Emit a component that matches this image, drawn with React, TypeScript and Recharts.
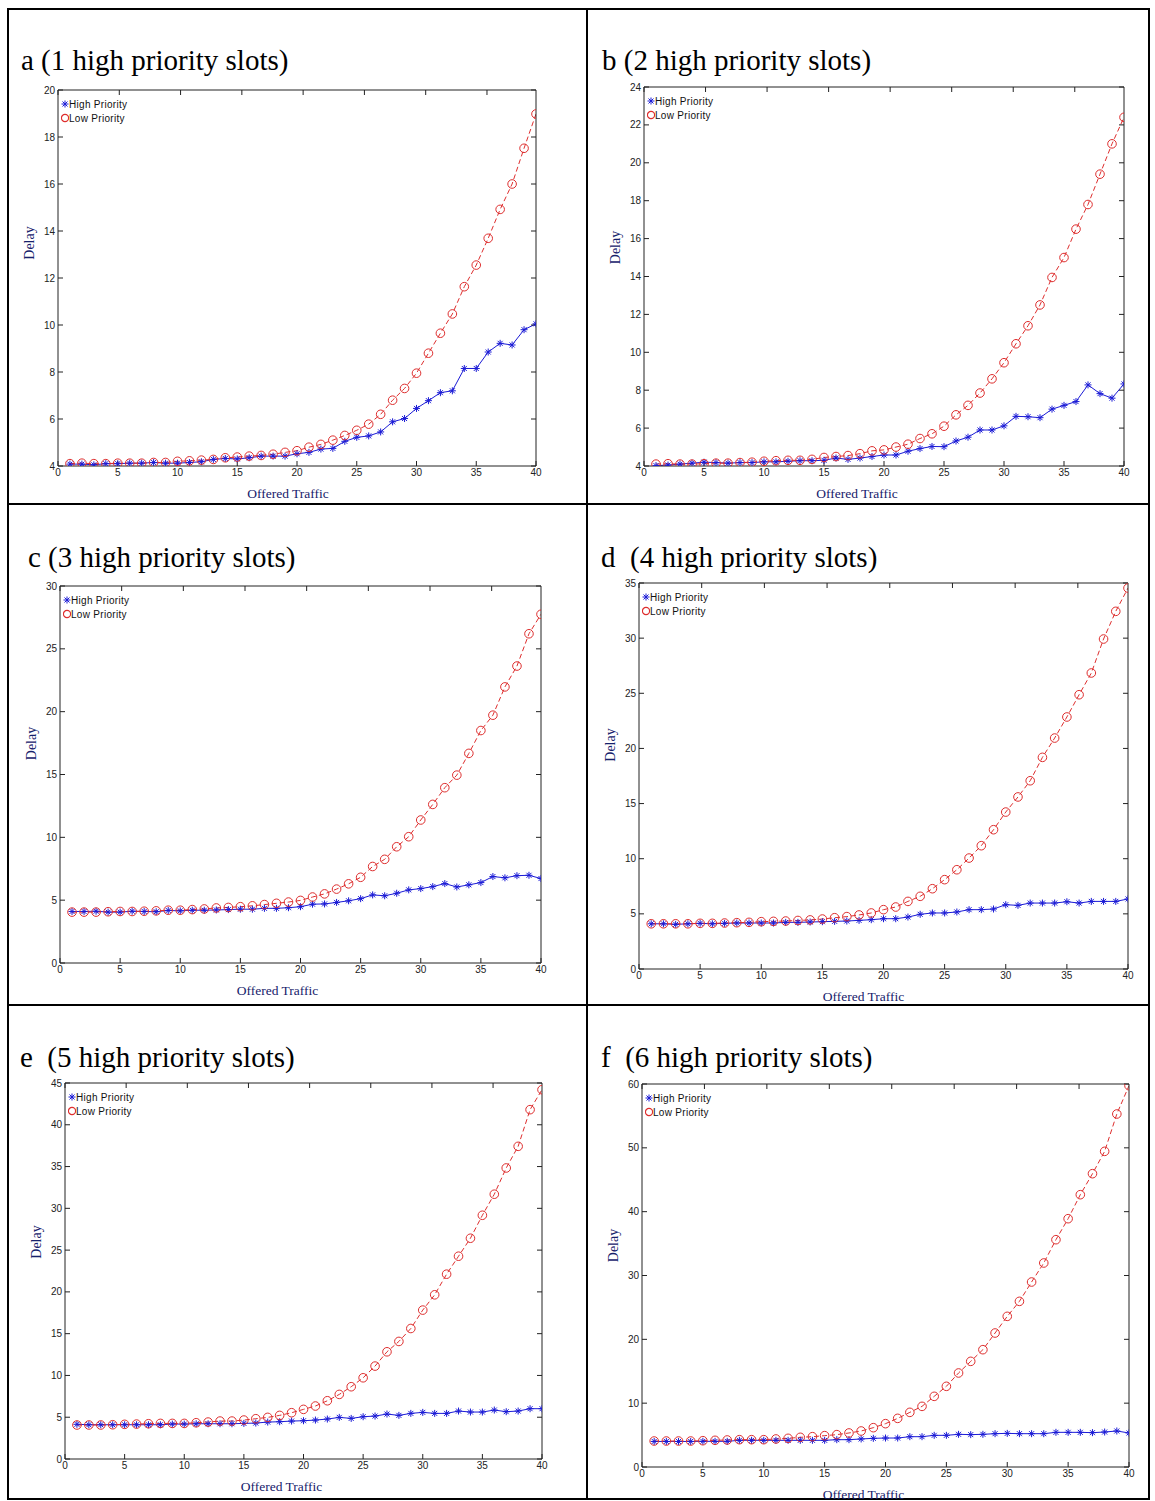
import React from "react";
import { LineChart, Line, XAxis, YAxis, Legend } from "recharts";

// offered traffic (x) shared by all six panels
const traffic = [1, 2, 3, 4, 5, 6, 7, 8, 9, 10, 11, 12, 13, 14, 15, 16, 17, 18, 19, 20, 21, 22, 23, 24, 25, 26, 27, 28, 29, 30, 31, 32, 33, 34, 35, 36, 37, 38, 39, 40];
const xTicks = [0, 5, 10, 15, 20, 25, 30, 35, 40];

const highA = [4.08, 4.08, 4.05, 4.1, 4.1, 4.12, 4.12, 4.15, 4.12, 4.12, 4.15, 4.18, 4.28, 4.32, 4.3, 4.35, 4.42, 4.42, 4.42, 4.52, 4.58, 4.72, 4.75, 5.05, 5.22, 5.28, 5.45, 5.88, 6.02, 6.45, 6.78, 7.12, 7.2, 8.15, 8.15, 8.85, 9.22, 9.15, 9.8, 10.05];
const lowA = [4.1, 4.12, 4.1, 4.1, 4.12, 4.12, 4.12, 4.15, 4.15, 4.2, 4.22, 4.25, 4.28, 4.35, 4.38, 4.42, 4.45, 4.5, 4.58, 4.65, 4.8, 4.92, 5.1, 5.3, 5.52, 5.78, 6.2, 6.8, 7.3, 7.95, 8.8, 9.65, 10.47, 11.63, 12.55, 13.69, 14.92, 16.0, 17.52, 18.98];

const highB = [4.02, 4.05, 4.1, 4.15, 4.2, 4.18, 4.15, 4.18, 4.18, 4.22, 4.22, 4.25, 4.28, 4.28, 4.3, 4.42, 4.35, 4.42, 4.5, 4.58, 4.58, 4.78, 4.92, 5.03, 5.02, 5.32, 5.52, 5.9, 5.9, 6.12, 6.62, 6.6, 6.55, 7.0, 7.2, 7.4, 8.28, 7.82, 7.58, 8.33];
const lowB = [4.1, 4.12, 4.1, 4.1, 4.12, 4.15, 4.15, 4.18, 4.2, 4.25, 4.28, 4.3, 4.3, 4.35, 4.45, 4.5, 4.55, 4.65, 4.8, 4.85, 5.0, 5.15, 5.45, 5.7, 6.1, 6.7, 7.2, 7.85, 8.6, 9.45, 10.45, 11.4, 12.5, 13.95, 15.0, 16.5, 17.8, 19.4, 21.0, 22.4];

const highC = [4.1, 4.1, 4.12, 4.05, 4.05, 4.12, 4.1, 4.08, 4.18, 4.15, 4.2, 4.2, 4.22, 4.25, 4.28, 4.28, 4.35, 4.35, 4.4, 4.48, 4.68, 4.7, 4.82, 4.95, 5.12, 5.42, 5.35, 5.55, 5.82, 5.92, 6.08, 6.32, 6.05, 6.22, 6.4, 6.88, 6.78, 6.95, 6.98, 6.72];
const lowC = [4.05, 4.05, 4.05, 4.08, 4.1, 4.1, 4.12, 4.15, 4.2, 4.2, 4.25, 4.3, 4.38, 4.42, 4.48, 4.55, 4.65, 4.75, 4.85, 4.98, 5.25, 5.5, 5.88, 6.3, 6.82, 7.68, 8.25, 9.25, 10.05, 11.38, 12.62, 13.95, 14.95, 16.68, 18.5, 19.72, 21.97, 23.63, 26.2, 27.75];

const highD = [4.1, 4.1, 4.05, 4.1, 4.14, 4.1, 4.14, 4.17, 4.17, 4.17, 4.17, 4.23, 4.23, 4.26, 4.29, 4.32, 4.35, 4.41, 4.47, 4.56, 4.56, 4.71, 4.96, 5.08, 5.08, 5.17, 5.38, 5.38, 5.44, 5.83, 5.77, 5.98, 5.98, 5.98, 6.1, 5.98, 6.13, 6.13, 6.13, 6.35];
const lowD = [4.1, 4.1, 4.1, 4.1, 4.14, 4.14, 4.17, 4.2, 4.23, 4.29, 4.32, 4.35, 4.4, 4.45, 4.53, 4.65, 4.75, 4.9, 5.08, 5.38, 5.62, 6.13, 6.59, 7.28, 8.1, 9.0, 10.06, 11.18, 12.63, 14.23, 15.6, 17.07, 19.19, 20.94, 22.85, 24.87, 26.84, 29.92, 32.43, 34.54];

const highE = [4.15, 4.1, 4.1, 4.1, 4.1, 4.1, 4.1, 4.1, 4.18, 4.18, 4.22, 4.22, 4.22, 4.22, 4.26, 4.3, 4.42, 4.46, 4.54, 4.58, 4.66, 4.78, 4.98, 4.86, 5.06, 5.14, 5.38, 5.22, 5.46, 5.58, 5.46, 5.46, 5.74, 5.62, 5.62, 5.86, 5.66, 5.74, 6.02, 6.02];
const lowE = [4.07, 4.07, 4.07, 4.1, 4.15, 4.18, 4.22, 4.26, 4.26, 4.26, 4.34, 4.42, 4.54, 4.54, 4.66, 4.82, 4.98, 5.22, 5.54, 5.94, 6.34, 6.97, 7.73, 8.65, 9.72, 11.12, 12.83, 14.07, 15.62, 17.82, 19.65, 22.12, 24.27, 26.42, 29.17, 31.69, 34.83, 37.42, 41.81, 44.2];

const highF = [4.0, 4.0, 4.0, 4.0, 4.02, 4.02, 4.02, 4.18, 4.18, 4.18, 4.18, 4.18, 4.18, 4.18, 4.18, 4.28, 4.28, 4.39, 4.49, 4.54, 4.54, 4.75, 4.75, 4.96, 4.96, 5.12, 5.07, 5.12, 5.22, 5.27, 5.22, 5.22, 5.22, 5.43, 5.43, 5.43, 5.38, 5.48, 5.64, 5.33];
const lowF = [4.07, 4.07, 4.07, 4.07, 4.12, 4.18, 4.23, 4.28, 4.28, 4.28, 4.39, 4.49, 4.65, 4.75, 4.91, 5.07, 5.33, 5.64, 6.16, 6.79, 7.62, 8.56, 9.5, 11.07, 12.64, 14.73, 16.55, 18.38, 20.99, 23.6, 25.95, 28.98, 31.96, 35.61, 38.9, 42.66, 45.95, 49.45, 55.3, 59.74];

const yTicksA = [4, 6, 8, 10, 12, 14, 16, 18, 20];
const yTicksB = [4, 6, 8, 10, 12, 14, 16, 18, 20, 22, 24];
const yTicksC = [0, 5, 10, 15, 20, 25, 30];
const yTicksD = [0, 5, 10, 15, 20, 25, 30, 35];
const yTicksE = [0, 5, 10, 15, 20, 25, 30, 35, 40, 45];
const yTicksF = [0, 10, 20, 30, 40, 50, 60];

const titles = [
  "a (1 high priority slots)",
  "b (2 high priority slots)",
  "c (3 high priority slots)",
  "d  (4 high priority slots)",
  "e  (5 high priority slots)",
  "f  (6 high priority slots)",
];

const BLUE = "#1b1bd6";
const RED = "#de2e2e";
const AXIS = "#222";
const LABEL = "#16216b";

// plot-area rectangles in page pixels, plus a few label nudges
const panels = [
  { title: titles[0], high: highA, low: lowA, yTicks: yTicksA, left: 58, top: 90, right: 536, bottom: 466, tx: 21, ty: 70, xdx: -9, ydy: -35 },
  { title: titles[1], high: highB, low: lowB, yTicks: yTicksB, left: 644, top: 87, right: 1124, bottom: 466, tx: 602, ty: 70, xdx: -27, ydy: -29 },
  { title: titles[2], high: highC, low: lowC, yTicks: yTicksC, left: 60, top: 586, right: 541, bottom: 963, tx: 28, ty: 567, xdx: -23, ydy: -31 },
  { title: titles[3], high: highD, low: lowD, yTicks: yTicksD, left: 639, top: 583, right: 1128, bottom: 969, tx: 601, ty: 567, xdx: -20, ydy: -31 },
  { title: titles[4], high: highE, low: lowE, yTicks: yTicksE, left: 65, top: 1083, right: 542, bottom: 1459, tx: 20, ty: 1067, xdx: -22, ydy: -29 },
  { title: titles[5], high: highF, low: lowF, yTicks: yTicksF, left: 642, top: 1084, right: 1129, bottom: 1467, tx: 601, ty: 1067, xdx: -22, ydy: -30 },
];

const tickFont = { fontSize: 10, fill: "#222", fontFamily: "Liberation Sans, Arial, sans-serif" };
const noLabel = () => <g />;

function StarDot(props: any) {
  const { cx, cy, index } = props;
  if (cx == null || cy == null) return <g key={index} />;
  const s = 3.5;
  const d = 2.5;
  return (
    <g key={index} stroke={BLUE} strokeWidth={1}>
      <line x1={cx - s} y1={cy} x2={cx + s} y2={cy} />
      <line x1={cx} y1={cy - s} x2={cx} y2={cy + s} />
      <line x1={cx - d} y1={cy - d} x2={cx + d} y2={cy + d} />
      <line x1={cx - d} y1={cy + d} x2={cx + d} y2={cy - d} />
    </g>
  );
}

function LegendBox() {
  const row = { display: "flex", alignItems: "center", height: 14 } as const;
  return (
    <div style={{ font: "10px 'Liberation Sans', Arial, sans-serif", color: "#111", letterSpacing: 0.3 }}>
      <div style={row}>
        <svg width={8} height={8}>
          <g stroke={BLUE} strokeWidth={1}>
            <line x1={0.5} y1={4} x2={7.5} y2={4} />
            <line x1={4} y1={0.5} x2={4} y2={7.5} />
            <line x1={1.5} y1={1.5} x2={6.5} y2={6.5} />
            <line x1={1.5} y1={6.5} x2={6.5} y2={1.5} />
          </g>
        </svg>
        <span>High Priority</span>
      </div>
      <div style={row}>
        <svg width={8} height={10}>
          <circle cx={4} cy={5} r={3.6} stroke={RED} fill="none" strokeWidth={1.2} />
        </svg>
        <span>Low Priority</span>
      </div>
    </div>
  );
}

function Panel({ p }: { p: (typeof panels)[number] }) {
  const padL = 45;
  const padT = 10;
  const padR = 10;
  const padB = 40;
  const w = p.right - p.left + padL + padR;
  const h = p.bottom - p.top + padT + padB;
  const rows = traffic.map((t, i) => ({ t, high: p.high[i], low: p.low[i] }));
  const yDomain = [p.yTicks[0], p.yTicks[p.yTicks.length - 1]];

  return (
    <>
      <div
        style={{
          position: "absolute",
          left: p.tx,
          top: p.ty - 24,
          font: "29px 'Liberation Serif', 'Times New Roman', serif",
          lineHeight: "29px",
          whiteSpace: "pre",
          color: "#000",
        }}
      >
        {p.title}
      </div>
      <div style={{ position: "absolute", left: p.left - padL, top: p.top - padT }}>
        <LineChart width={w} height={h} data={rows} margin={{ top: padT - 1, right: padR - 1, bottom: 0, left: 0 }}>
          <XAxis
            xAxisId="b"
            dataKey="t"
            type="number"
            domain={[0, 40]}
            ticks={xTicks}
            interval={0}
            allowDataOverflow
            height={padB}
            tickSize={-5}
            tickMargin={8}
            tick={tickFont}
            stroke={AXIS}
            label={{
              content: (lp: any) => {
                const vb = lp.viewBox;
                if (!vb) return null;
                return (
                  <text
                    x={vb.x + vb.width / 2 + p.xdx}
                    y={vb.y + 27}
                    textAnchor="middle"
                    dominantBaseline="central"
                    fontFamily="'Liberation Serif', 'Times New Roman', serif"
                    fontSize={13.5}
                    fill={LABEL}
                  >
                    Offered Traffic
                  </text>
                );
              },
            }}
          />
          <XAxis
            xAxisId="t"
            orientation="top"
            type="number"
            domain={[0, 40]}
            ticks={xTicks}
            interval={0}
            allowDataOverflow
            height={1}
            tickSize={-5}
            tick={noLabel}
            stroke={AXIS}
          />
          <YAxis
            yAxisId="l"
            type="number"
            domain={yDomain}
            ticks={p.yTicks}
            interval={0}
            allowDataOverflow
            width={padL}
            tickSize={-5}
            tickMargin={8}
            tick={tickFont}
            stroke={AXIS}
            label={{
              content: (lp: any) => {
                const vb = lp.viewBox;
                if (!vb) return null;
                const cx = vb.x + vb.width - 29;
                const cy = vb.y + vb.height / 2 + p.ydy;
                return (
                  <text
                    x={cx}
                    y={cy}
                    transform={`rotate(-90 ${cx} ${cy})`}
                    textAnchor="middle"
                    dominantBaseline="central"
                    fontFamily="'Liberation Serif', 'Times New Roman', serif"
                    fontSize={14}
                    fill={LABEL}
                  >
                    Delay
                  </text>
                );
              },
            }}
          />
          <YAxis
            yAxisId="r"
            orientation="right"
            type="number"
            domain={yDomain}
            ticks={p.yTicks}
            interval={0}
            allowDataOverflow
            width={1}
            tickSize={-5}
            tick={noLabel}
            stroke={AXIS}
          />
          <Line
            xAxisId="b"
            yAxisId="l"
            dataKey="high"
            stroke={BLUE}
            strokeWidth={1}
            dot={StarDot}
            isAnimationActive={false}
          />
          <Line
            xAxisId="b"
            yAxisId="l"
            dataKey="low"
            stroke={RED}
            strokeWidth={1}
            strokeDasharray="5 3"
            dot={{ r: 4.3, stroke: RED, fill: "none", strokeWidth: 1, strokeDasharray: "" }}
            isAnimationActive={false}
          />
          <Legend
            layout="vertical"
            align="center"
            verticalAlign="middle"
            content={() => <LegendBox />}
            wrapperStyle={{ left: padL + 3, top: padT + 7, width: "auto" }}
          />
        </LineChart>
      </div>
    </>
  );
}

export default function App() {
  const border = "#000";
  return (
    <div style={{ position: "absolute", left: 0, top: 0, width: 1155, height: 1501, background: "#fff", overflow: "hidden" }}>
      <div style={{ position: "absolute", left: 7, top: 8, width: 1143, height: 1492, border: `2px solid ${border}`, boxSizing: "border-box" }} />
      <div style={{ position: "absolute", left: 586, top: 8, width: 2, height: 1492, background: border }} />
      <div style={{ position: "absolute", left: 7, top: 503, width: 1143, height: 2, background: border }} />
      <div style={{ position: "absolute", left: 7, top: 1004, width: 1143, height: 2, background: border }} />
      {panels.map((p) => (
        <Panel key={p.title} p={p} />
      ))}
    </div>
  );
}
